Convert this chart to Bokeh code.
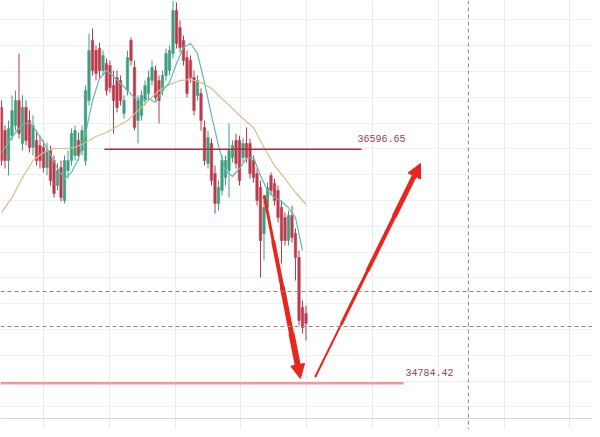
from bokeh.plotting import figure
from bokeh.models import Range1d, Grid, FixedTicker, Span, Arrow, NormalHead, Label
from bokeh.embed import file_html
from bokeh.resources import INLINE

# ---- candle data (price) ----
opens = [36921, 36742, 36510, 36704, 36781, 36975, 36642, 36921, 36820, 36611,
         36665, 36626, 36611, 36456, 36587, 36510, 36316, 36456, 36200, 36432,
         36510, 36549, 36665, 36587, 36510, 36975, 37440, 37362, 37378, 37207,
         37262, 37246, 37091, 37153, 37130, 36874, 37052, 37440, 37231, 36820,
         36859, 36975, 37029, 37130, 37207, 37130, 37052, 37169, 37207, 37339,
         37672, 37541, 37440, 37308, 37285, 37153, 37014, 37029, 36766, 36487,
         36642, 36409, 36177, 36277, 36378, 36432, 36533, 36665, 36665, 36533,
         36642, 36642, 36510, 36409, 36301, 35944, 36146, 36394, 36332, 36277,
         36146, 36068, 35890, 36084, 35944, 35758, 35371, 35324]
closes = [36510, 36510, 36758, 36897, 36975, 36719, 36921, 36665, 36611, 36781,
          36510, 36510, 36456, 36587, 36355, 36254, 36432, 36223, 36510, 36510,
          36719, 36742, 36549, 36742, 37052, 37362, 37207, 37184, 37207, 37324,
          37052, 37076, 36975, 36921, 36975, 36975, 37308, 37285, 36766, 36975,
          37014, 37091, 37153, 37231, 36998, 36975, 37169, 37339, 37362, 37672,
          37417, 37386, 37285, 37029, 37153, 36897, 37130, 36820, 36510, 36688,
          36355, 36177, 36301, 36510, 36510, 36587, 36626, 36487, 36355, 36642,
          36533, 36409, 36378, 36200, 35890, 36146, 36301, 36277, 36200, 36068,
          35890, 35890, 36084, 35913, 35758, 35270, 35216, 35247]
highs = [36975, 36781, 36820, 37014, 37052, 37339, 37014, 36975, 36897, 36859,
         36742, 36704, 36665, 36649, 36626, 36549, 36487, 36510, 36549, 36587,
         36758, 36781, 36727, 36781, 37091, 37494, 37533, 37401, 37424, 37362,
         37300, 37285, 37207, 37207, 37169, 37014, 37362, 37463, 37285, 37014,
         37052, 37130, 37207, 37285, 37246, 37169, 37207, 37378, 37401, 37750,
         37735, 37595, 37479, 37362, 37324, 37207, 37169, 37068, 36820, 36742,
         36680, 36471, 36355, 36549, 36549, 36797, 36665, 36719, 36704, 36680,
         36766, 36680, 36549, 36448, 36355, 36200, 36339, 36417, 36370, 36316,
         36200, 36107, 36122, 36161, 35983, 35812, 35425, 35386]
lows = [36471, 36448, 36394, 36665, 36742, 36680, 36587, 36626, 36572, 36549,
        36471, 36448, 36417, 36394, 36316, 36223, 36277, 36192, 36177, 36370,
        36471, 36510, 36510, 36549, 36471, 36936, 37169, 37130, 37145, 37169,
        37014, 37037, 36719, 36882, 36936, 36835, 37014, 37246, 36742, 36642,
        36820, 36936, 36990, 37091, 36975, 36797, 37014, 37130, 37169, 37300,
        37378, 37347, 37246, 36998, 37114, 36859, 36975, 36742, 36471, 36448,
        36316, 36099, 36122, 36239, 36316, 36223, 36494, 36448, 36316, 36494,
        36494, 36370, 36339, 36161, 35603, 35735, 36107, 36239, 36161, 36029,
        35712, 35851, 35851, 35874, 35580, 35231, 35169, 35115]
idx = list(range(len(opens)))

# ---- moving averages ----
ma_fast_idx = [0, 2, 4, 6, 8, 10, 12, 14, 16, 18, 20, 22, 24, 26, 28, 30, 32, 34, 36, 38,
               40, 42, 44, 46, 48, 50, 52, 54, 56, 58, 60, 62, 64, 66, 68, 70, 72, 74,
               76, 78, 80, 82, 84, 86]
ma_fast = [36572, 36650, 36727, 36789, 36804, 36735, 36650, 36557, 36448, 36370,
           36417, 36526, 36719, 36975, 37145, 37207, 37161, 37107, 37052, 36998,
           36975, 36990, 36960, 37052, 37114, 37262, 37386, 37417, 37339, 37114,
           36859, 36626, 36432, 36386, 36448, 36526, 36533, 36394, 36277, 36223,
           36192, 36146, 36068, 35812]
ma_slow_idx = [0, 3, 6, 9, 12, 15, 18, 21, 24, 27, 30, 33, 36, 39, 42, 45, 48, 51, 54,
               57, 60, 63, 66, 69, 72, 75, 78, 81, 84, 87]
ma_slow = [36107, 36223, 36378, 36510, 36572, 36603, 36603, 36611, 36650, 36696,
           36727, 36774, 36820, 36897, 36975, 37052, 37099, 37130, 37138, 37114,
           37068, 36990, 36913, 36835, 36766, 36611, 36471, 36370, 36262, 36169]

# ---- levels, lines, arrows ----
resistance = 36596.65
resistance_span = [29.4, 102.9]
support = 34784.42
support_span = [-0.5, 114.9]
dashed_levels = [35494.75, 35223.5]
dashed_time = 133.4
arrow_down = [75.1, 36231, 85.4, 34820]
arrow_up = [89.7, 34836, 119.7, 36487]
grid_x = [12.0, 30.8, 49.6, 68.4, 87.2, 106.0, 124.8, 143.6, 162.4]
grid_y = [34400, 34600, 34800, 35000, 35200, 35400, 35600, 35800, 36000, 36200,
          36400, 36600, 36800, 37000, 37200, 37400, 37600]
bottom_rule = 34510

UP = "#3e9e7e"
DOWN = "#bc3a4c"

p = figure(width=592, height=429, x_range=Range1d(-0.2857, 168.857),
           y_range=Range1d(34425.25, 37750), x_axis_type=None, y_axis_type=None,
           toolbar_location=None, output_backend="svg", min_border=0)
p.outline_line_color = None
p.background_fill_color = "white"

p.add_layout(Grid(dimension=0, ticker=FixedTicker(ticks=grid_x),
                  grid_line_color="#e9ebee", grid_line_width=1))
p.add_layout(Grid(dimension=1, ticker=FixedTicker(ticks=grid_y),
                  grid_line_color="#eef0f2", grid_line_width=1))
p.add_layout(Span(location=bottom_rule, dimension="width", line_color="#d4d4d4", line_width=1))

for lvl in dashed_levels:
    p.add_layout(Span(location=lvl, dimension="width", line_color="#8a8a8a",
                      line_dash="4 3", line_width=1))
p.add_layout(Span(location=dashed_time, dimension="height", line_color="#8a8a8a",
                  line_dash="4 3", line_width=1))

colors = [UP if c >= o else DOWN for o, c in zip(opens, closes)]
tops = [max(o, c) for o, c in zip(opens, closes)]
bots = [min(o, c) for o, c in zip(opens, closes)]
p.segment(x0=idx, y0=lows, x1=idx, y1=highs, color=colors, line_width=1)
p.vbar(x=idx, width=0.72, top=tops, bottom=bots, fill_color=colors, line_color=colors, line_width=0.5)

p.line(ma_slow_idx, ma_slow, line_color="#d9bd86", line_width=1.2)
p.line(ma_fast_idx, ma_fast, line_color="#5cbdaa", line_width=1.2)

p.segment(x0=[resistance_span[0]], y0=[resistance], x1=[resistance_span[1]], y1=[resistance],
          line_color="#a8323c", line_width=1.5)
p.segment(x0=[support_span[0]], y0=[support], x1=[support_span[1]], y1=[support],
          line_color="#f19a9e", line_width=2.5)

p.add_layout(Label(x=101.7, y=36680, text="36596.65", text_font="Liberation Mono",
                   text_font_size="10px", text_color="#a0405a", text_baseline="middle"))
p.add_layout(Label(x=115.4, y=34867, text="34784.42", text_font="Liberation Mono",
                   text_font_size="10px", text_color="#a0405a", text_baseline="middle"))

RED = "#e8261e"


def tapered_arrow(a, widths, head):
    # shaft drawn in pieces of growing width, head on the last piece
    x0, y0, x1, y1 = a
    n = len(widths)
    for k, w in enumerate(widths):
        xa = x0 + (x1 - x0) * k / n
        ya = y0 + (y1 - y0) * k / n
        xb = x0 + (x1 - x0) * (k + 1) / n
        yb = y0 + (y1 - y0) * (k + 1) / n
        if k < n - 1:
            p.segment(x0=[xa], y0=[ya], x1=[xb], y1=[yb], line_color=RED,
                      line_width=w, line_cap="round")
        else:
            p.add_layout(Arrow(end=NormalHead(size=head, fill_color=RED, line_color=RED),
                               x_start=xa, y_start=ya, x_end=xb, y_end=yb,
                               line_color=RED, line_width=w))


tapered_arrow(arrow_down, [3, 4, 5, 6], 14)
tapered_arrow(arrow_up, [2, 3, 4, 5], 14)

open("out.html", "w").write(file_html(p, INLINE))
